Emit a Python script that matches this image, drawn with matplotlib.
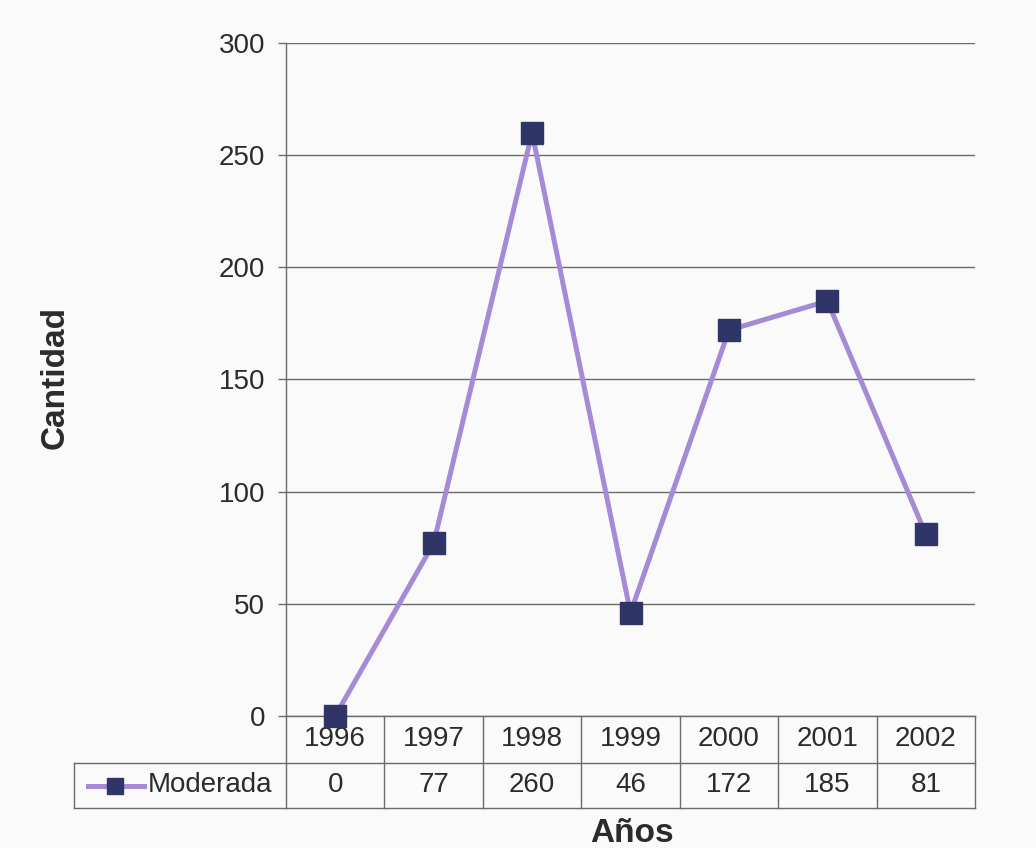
import matplotlib
matplotlib.use("Agg")
import matplotlib.pyplot as plt
from matplotlib.lines import Line2D
import matplotlib.transforms as mtransforms

# Data
years = ["1996", "1997", "1998", "1999", "2000", "2001", "2002"]
moderada = [0, 77, 260, 46, 172, 185, 81]
series_name = "Moderada"
yticks = [0, 50, 100, 150, 200, 250, 300]

LINE_COLOR = "#a68ad6"
MARKER_COLOR = "#2f3566"
GRID_COLOR = "#6b6b6b"
TEXT_COLOR = "#2b2b2b"
FS = 20

plt.rcParams["font.family"] = ["Liberation Sans", "DejaVu Sans"]

W, H = 1036, 848
fig = plt.figure(figsize=(W / 100, H / 100), dpi=100)
fig.patch.set_facecolor("#fbfafb")

left_px, right_px, top_px, bottom_px = 286, 975, 43, 716
ax = fig.add_axes([left_px / W, 1 - bottom_px / H,
                   (right_px - left_px) / W, (bottom_px - top_px) / H])
ax.set_facecolor("none")

x = list(range(len(years)))
ax.plot(x, moderada, color=LINE_COLOR, lw=3.6, marker="s", ms=15.5,
        mfc=MARKER_COLOR, mec=MARKER_COLOR, zorder=5, clip_on=False,
        solid_joinstyle="miter")

ax.set_xlim(-0.5, len(years) - 0.5)
ax.set_ylim(0, 300)
ax.set_yticks(yticks)
ax.set_yticklabels([str(v) for v in yticks], fontsize=FS, color=TEXT_COLOR)
ax.set_xticks([])
ax.tick_params(axis="y", length=6, width=1, color=GRID_COLOR, pad=9)
for s in ["top", "right", "bottom"]:
    ax.spines[s].set_visible(False)
ax.spines["left"].set_color(GRID_COLOR)
ax.spines["left"].set_linewidth(1)
ax.yaxis.grid(True, color=GRID_COLOR, lw=1)
ax.set_axisbelow(True)

# Data table below the plot area
ax_h = bottom_px - top_px
col_w = (right_px - left_px) / len(years)
row1 = -(763 - bottom_px) / ax_h
row2 = -(808 - bottom_px) / ax_h
legend_left = -0.5 - (left_px - 74) / col_w
trans = mtransforms.blended_transform_factory(ax.transData, ax.transAxes)

def tline(xs, ys):
    ax.add_line(Line2D(xs, ys, transform=trans, color=GRID_COLOR, lw=1,
                       clip_on=False, zorder=1))

# vertical lines
tline([-0.5, -0.5], [row2, 0])
for i in range(len(years)):
    tline([i + 0.5, i + 0.5], [row2, 0])
tline([legend_left, legend_left], [row2, row1])
# horizontal lines
tline([-0.5, len(years) - 0.5], [0, 0])
tline([legend_left, len(years) - 0.5], [row1, row1])
tline([legend_left, len(years) - 0.5], [row2, row2])

for i, (yr, v) in enumerate(zip(years, moderada)):
    ax.text(i, row1 / 2, yr, transform=trans, ha="center", va="center",
            fontsize=FS, color=TEXT_COLOR, clip_on=False)
    ax.text(i, (row1 + row2) / 2, str(v), transform=trans, ha="center",
            va="center", fontsize=FS, color=TEXT_COLOR, clip_on=False)

# legend key in the table
ymid = (row1 + row2) / 2
key_x0 = legend_left + 14 / col_w
key_x1 = legend_left + 70 / col_w
ax.add_line(Line2D([key_x0, key_x1], [ymid, ymid], transform=trans,
                   color=LINE_COLOR, lw=3.6, clip_on=False, zorder=4))
ax.add_line(Line2D([legend_left + 41 / col_w], [ymid], transform=trans,
                   marker="s", ms=12, mfc=MARKER_COLOR, mec=MARKER_COLOR,
                   lw=0, clip_on=False, zorder=5))
ax.text(legend_left + 74 / col_w, ymid, series_name, transform=trans,
        ha="left", va="center", fontsize=FS, color=TEXT_COLOR, clip_on=False)

# axis titles
fig.text(55 / W, 1 - 378 / H, "Cantidad", rotation=90, ha="center",
         va="center", fontsize=24, fontweight="bold", color=TEXT_COLOR)
fig.text(632 / W, 1 - 833 / H, "Años", ha="center", va="center",
         fontsize=24, fontweight="bold", color=TEXT_COLOR)

fig.savefig("out.png", dpi=100, facecolor=fig.get_facecolor())
